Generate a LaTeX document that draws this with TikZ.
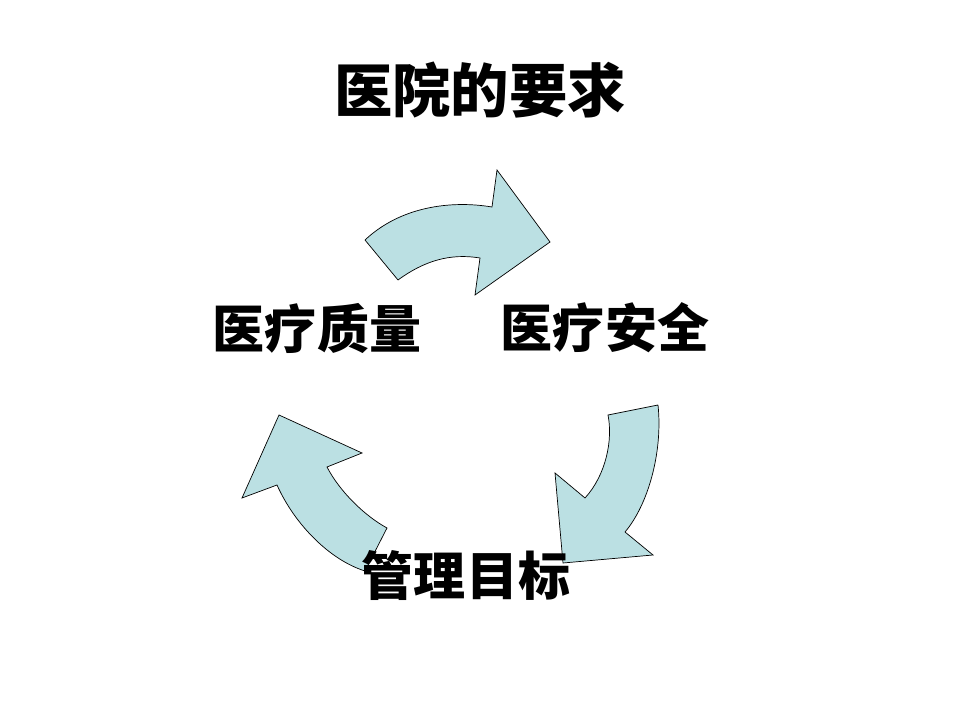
\documentclass[tikz,border=0pt]{standalone}
\usepackage{fontspec}
\newfontfamily\cjk{Noto Sans CJK SC}
\definecolor{arrowblue}{RGB}{187,224,227}
\tikzset{
    cyclearrow/.style={fill=arrowblue,draw=black,line width=0.5pt,line join=miter},
    label/.style={inner sep=0pt,font=\cjk\bfseries\fontsize{37}{37}\selectfont}
}
\begin{document}
\begin{tikzpicture}[x=0.025cm,y=-0.025cm]
    \useasboundingbox[fill=white] (0,0) rectangle (960,720);

    % top arrow, quality to safety
    \draw[cyclearrow] (365,240) .. controls (400,207) and (450,200) .. (492,207)
        -- (497,170) -- (550,242) -- (475,295) -- (480,258)
        .. controls (450,253) and (424,261) .. (398,280) -- cycle;
    % right arrow, safety to goal
    \draw[cyclearrow] (658,405) -- (608,415) .. controls (613,440) and (606,475) .. (585,498)
        -- (555,473) -- (563,563) -- (653,555) -- (625,532)
        .. controls (648,505) and (663,452) .. (658,405);
    % left arrow, goal to quality
    \draw[cyclearrow] (365,571) -- (387,528) .. controls (365,516) and (340,492) .. (327,467)
        -- (362,453) -- (279,415) -- (242,498) -- (277,485)
        .. controls (295,525) and (330,560) .. (365,571);

    \node[label,font=\cjk\bfseries\fontsize{41.5}{41.5}\selectfont] (title) at (480,90) {医院的要求};
    \node[label] (quality) at (317,328) {医疗质量};
    \node[label] (safety) at (605,328) {医疗安全};
    \node[label] (goal) at (466,576) {管理目标};
\end{tikzpicture}
\end{document}
